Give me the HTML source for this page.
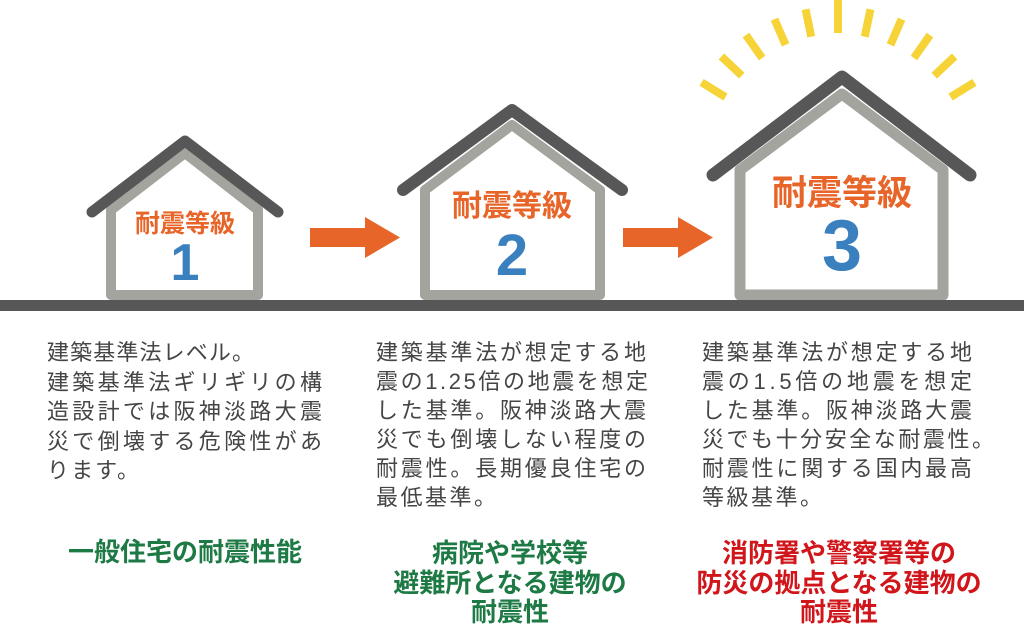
<!DOCTYPE html>
<html><head><meta charset="utf-8"><style>
html,body{margin:0;padding:0;background:#fff;}
svg{display:block;}
.t{font-family:"Liberation Sans","Noto Sans CJK JP",sans-serif;font-size:22px;fill:#454545;}
.h{font-family:"Liberation Sans","Noto Sans CJK JP",sans-serif;font-weight:bold;fill:#e8652a;text-anchor:middle;}
.n{font-family:"Liberation Sans",sans-serif;font-weight:bold;fill:#3a80bf;text-anchor:middle;}
.g{font-family:"Liberation Sans","Noto Sans CJK JP",sans-serif;font-weight:bold;font-size:26px;text-anchor:middle;}
</style></head><body>
<svg width="1024" height="628" viewBox="0 0 1024 628" xmlns="http://www.w3.org/2000/svg">
<rect width="1024" height="628" fill="#fff"/>
<g stroke="#f6d336" stroke-width="8" stroke-linecap="butt">
<g transform="rotate(-58.5 838 166)"><line x1="838" y1="6" x2="838" y2="34"/></g>
<g transform="rotate(-46.8 838 166)"><line x1="838" y1="6" x2="838" y2="34"/></g>
<g transform="rotate(-35.1 838 166)"><line x1="838" y1="6" x2="838" y2="34"/></g>
<g transform="rotate(-23.4 838 166)"><line x1="838" y1="6" x2="838" y2="34"/></g>
<g transform="rotate(-11.7 838 166)"><line x1="838" y1="6" x2="838" y2="34"/></g>
<g transform="rotate(0 838 166)"><line x1="838" y1="0" x2="838" y2="33"/></g>
<g transform="rotate(11.7 838 166)"><line x1="838" y1="6" x2="838" y2="34"/></g>
<g transform="rotate(23.4 838 166)"><line x1="838" y1="6" x2="838" y2="34"/></g>
<g transform="rotate(35.1 838 166)"><line x1="838" y1="6" x2="838" y2="34"/></g>
<g transform="rotate(46.8 838 166)"><line x1="838" y1="6" x2="838" y2="34"/></g>
<g transform="rotate(58.5 838 166)"><line x1="838" y1="6" x2="838" y2="34"/></g>
</g>
<path d="M111 295 L111 210 L185 153 L258 210 L258 295 Z" fill="#fff" stroke="#a3a49e" stroke-width="10" stroke-linejoin="round"/>
<polyline points="92,212 185,141 278,212" fill="none" stroke="#575757" stroke-width="11" stroke-linecap="round" stroke-linejoin="round"/>
<text class="h" x="185" y="232" font-size="25">耐震等級</text>
<text class="n" x="185" y="280" font-size="52">1</text>
<path d="M425 295 L425 190 L512 125 L600 190 L600 295 Z" fill="#fff" stroke="#a3a49e" stroke-width="10" stroke-linejoin="round"/>
<polyline points="403,190 512,110 622,190" fill="none" stroke="#575757" stroke-width="12" stroke-linecap="round" stroke-linejoin="round"/>
<text class="h" x="512" y="216" font-size="30">耐震等級</text>
<text class="n" x="512" y="275" font-size="58">2</text>
<path d="M740 295 L740 170 L842 94 L943 170 L943 295 Z" fill="#fff" stroke="#a3a49e" stroke-width="11" stroke-linejoin="round"/>
<polyline points="713,175 842,77 970,175" fill="none" stroke="#575757" stroke-width="13" stroke-linecap="round" stroke-linejoin="round"/>
<text class="h" x="842" y="205" font-size="35">耐震等級</text>
<text class="n" x="842" y="270" font-size="72">3</text>
<rect x="0" y="300" width="1024" height="11" fill="#575757"/>
<path d="M310 228 H365 V217 L400 237.5 L365 258 V247 H310 Z" fill="#e8652a"/>
<path d="M623 228 H678 V217 L713 237.5 L678 258 V247 H623 Z" fill="#e8652a"/>
<g class="t">
<text x="47" y="360" textLength="207" lengthAdjust="spacing">建築基準法レベル。</text>
<text x="47" y="390" textLength="275" lengthAdjust="spacing">建築基準法ギリギリの構</text>
<text x="47" y="419" textLength="275" lengthAdjust="spacing">造設計では阪神淡路大震</text>
<text x="47" y="449" textLength="275" lengthAdjust="spacing">災で倒壊する危険性があ</text>
<text x="47" y="478" textLength="92" lengthAdjust="spacing">ります。</text>
</g>
<g class="t">
<text x="376" y="360" textLength="270" lengthAdjust="spacing">建築基準法が想定する地</text>
<text x="376" y="389" textLength="272" lengthAdjust="spacing">震の1.25倍の地震を想定</text>
<text x="376" y="418" textLength="270" lengthAdjust="spacing">した基準。阪神淡路大震</text>
<text x="376" y="447" textLength="270" lengthAdjust="spacing">災でも倒壊しない程度の</text>
<text x="376" y="476" textLength="270" lengthAdjust="spacing">耐震性。長期優良住宅の</text>
<text x="376" y="505" textLength="120" lengthAdjust="spacing">最低基準。</text>
</g>
<g class="t">
<text x="702" y="360" textLength="270" lengthAdjust="spacing">建築基準法が想定する地</text>
<text x="702" y="389" textLength="270" lengthAdjust="spacing">震の1.5倍の地震を想定</text>
<text x="702" y="418" textLength="270" lengthAdjust="spacing">した基準。阪神淡路大震</text>
<text x="702" y="447" textLength="292" lengthAdjust="spacing">災でも十分安全な耐震性。</text>
<text x="702" y="476" textLength="270" lengthAdjust="spacing">耐震性に関する国内最高</text>
<text x="702" y="505" textLength="120" lengthAdjust="spacing">等級基準。</text>
</g>
<g class="g" fill="#1e7a45">
<text x="185" y="561">一般住宅の耐震性能</text>
<text x="510" y="562">病院や学校等</text>
<text x="510" y="592">避難所となる建物の</text>
<text x="510" y="621">耐震性</text>
</g>
<g class="g" fill="#d0161b">
<text x="839" y="562">消防署や警察署等の</text>
<text x="839" y="592">防災の拠点となる建物の</text>
<text x="839" y="621">耐震性</text>
</g>
</svg>
</body></html>
